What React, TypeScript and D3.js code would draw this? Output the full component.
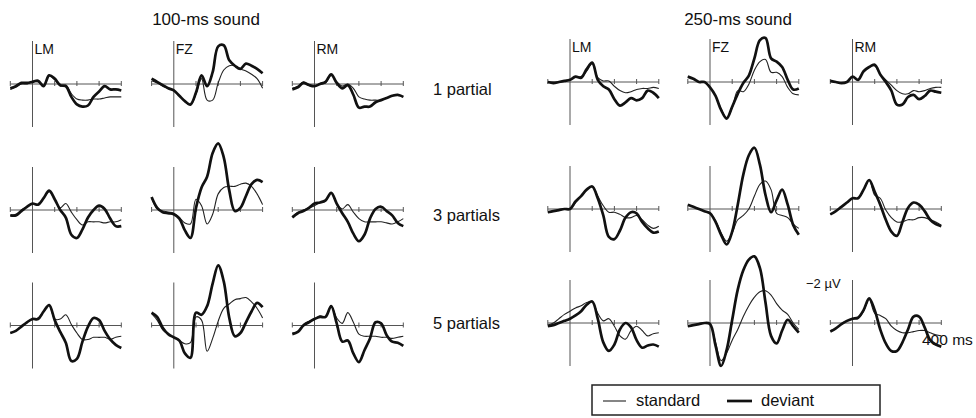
import React from 'react';
import * as d3 from 'd3';

// sample times (ms) and baseline ticks
const TIMES = [-100, -75, -50, -25, 0, 25, 50, 75, 100, 125, 150, 175, 200, 225, 250, 275, 300, 325, 350, 375, 400];
const TICKS = [-100, 100, 200, 300, 400];

const SOUNDS = ['100-ms sound', '250-ms sound'];
const ELECTRODES = ['LM', 'FZ', 'RM'];
const ROWS = ['1 partial', '3 partials', '5 partials'];

// values in µV, negative up
// 100-ms sound
const std100LM1 = [0.25, 0.15, 0, 0, -0.1, -0.1, 0.05, -0.4, -0.2, 0.1, 0.05, 0.45, 0.7, 0.75, 0.75, 0.7, 0.7, 0.65, 0.6, 0.6, 0.6];
const dev100LM1 = [0.2, 0.1, -0.05, -0.05, -0.1, -0.15, 0.1, -0.4, -0.25, 0.05, 0.1, 0.6, 0.95, 1.05, 1.0, 0.6, 0.35, 0.1, 0.25, 0.25, 0.3];
const std100FZ1 = [-0.15, -0.05, 0.1, 0.2, 0.3, 0.55, 0.8, 1.0, 0.45, -0.25, 0.75, 0.75, -0.05, -0.65, -0.85, -0.85, -0.7, -0.6, -0.45, -0.25, 0.2];
const dev100FZ1 = [-0.25, -0.1, 0.05, 0.2, 0.3, 0.55, 0.8, 0.95, 0.4, -0.4, 0.1, -0.55, -1.75, -1.8, -1.1, -0.85, -0.7, -0.95, -0.85, -0.7, -0.5];
const std100RM1 = [0.2, 0.1, -0.1, 0.05, 0.1, 0, -0.05, -0.4, -0.1, 0.1, 0, 0.2, 0.6, 0.7, 0.75, 0.75, 0.75, 0.65, 0.55, 0.55, 0.6];
const dev100RM1 = [0.25, 0.15, -0.05, 0.05, 0.1, 0, -0.1, -0.45, -0.05, 0.2, 0.05, 0.5, 1.1, 1.05, 1.05, 0.85, 0.75, 0.65, 0.55, 0.5, 0.6];

const std100LM3 = [0.25, 0.2, 0, -0.15, -0.3, -0.25, -0.55, -0.85, -0.5, -0.1, -0.3, 0.1, 0.45, 0.7, 0.55, 0.55, 0.55, 0.6, 0.55, 0.55, 0.45];
const dev100LM3 = [0.25, 0.25, 0.05, -0.15, -0.3, -0.25, -0.55, -0.9, -0.5, 0, 0.35, 1.15, 1.3, 0.9, 0.35, 0, -0.2, -0.05, 0.4, 0.75, 0.75];
const std100FZ3 = [-0.55, -0.05, 0.05, 0.1, 0.15, 0.35, 0.6, 0.65, -0.5, -0.2, 0.65, 0.2, -0.75, -1.05, -1.1, -1.1, -1.2, -1.25, -1.1, -0.75, -0.25];
const dev100FZ3 = [-0.6, -0.1, 0.1, 0.15, 0.2, 0.4, 0.95, 1.3, -0.1, -1.05, -1.55, -2.65, -3.1, -2.45, -0.9, 0.05, -0.1, -0.65, -1.2, -1.4, -1.3];
const std100RM3 = [0.3, 0.1, 0, -0.1, -0.2, -0.35, -0.45, -0.8, -0.3, -0.05, -0.25, 0.1, 0.4, 0.55, 0.55, 0.55, 0.55, 0.6, 0.65, 0.55, 0.4];
const dev100RM3 = [0.35, 0.15, 0.05, -0.1, -0.3, -0.35, -0.45, -0.8, -0.3, 0.15, 0.55, 1.1, 1.45, 1.15, 0.4, -0.05, -0.15, 0.05, 0.25, 0.6, 0.75];

const std100LM5 = [0.35, 0.25, 0.05, -0.15, -0.3, -0.35, -0.65, -0.95, -0.3, -0.3, -0.5, -0.05, 0.35, 0.65, 0.65, 0.55, 0.55, 0.55, 0.65, 0.55, 0.5];
const dev100LM5 = [0.35, 0.25, 0.05, -0.15, -0.3, -0.3, -0.65, -0.95, -0.25, 0.3, 0.8, 1.65, 1.55, 0.75, 0.05, -0.35, -0.25, 0.25, 0.65, 0.9, 1.05];
const std100FZ5 = [-0.55, -0.25, 0.2, 0.4, 0.55, 0.7, 0.85, 0.8, -0.4, -0.25, 1.2, 0.6, -0.2, -0.8, -1.0, -1.2, -1.25, -1.3, -1.1, -0.8, -0.35];
const dev100FZ5 = [-0.6, -0.4, 0.1, 0.4, 0.55, 0.7, 1.3, 1.5, -0.6, -0.5, -0.9, -1.95, -2.8, -2.05, -0.35, 0.5, 0.35, -0.15, -0.65, -1.05, -0.85];
const std100RM5 = [0.35, 0.3, -0.05, -0.2, -0.3, -0.45, -0.4, -0.9, -0.35, -0.1, -0.6, -0.15, 0.4, 0.5, 0.5, 0.5, 0.55, 0.55, 0.6, 0.55, 0.5];
const dev100RM5 = [0.4, 0.3, 0, -0.15, -0.3, -0.4, -0.4, -0.9, -0.1, 0.75, 0.7, 1.3, 1.7, 1.15, 0.6, -0.15, -0.1, 0.45, 0.75, 0.8, 0.95];

// 250-ms sound
const std250LM1 = [0, 0, 0, -0.05, -0.1, -0.25, -0.25, -0.5, -0.85, -0.2, -0.05, -0.05, 0.2, 0.4, 0.5, 0.45, 0.35, 0.3, 0.3, 0.25, 0.3];
const dev250LM1 = [0, 0.05, 0, -0.05, -0.1, -0.25, -0.2, -0.6, -0.9, -0.1, 0.2, 0.35, 0.8, 1.1, 0.95, 0.75, 0.85, 0.75, 0.4, 0.5, 0.75];
const std250FZ1 = [-0.25, -0.15, 0, 0, 0.25, 0.65, 1.25, 1.65, 1.2, 0.4, 0.45, 0.1, -0.55, -0.95, -1.05, -0.45, -0.45, -0.25, 0.25, 0.55, 0.6];
const dev250FZ1 = [-0.25, -0.15, 0, 0, 0.25, 0.65, 1.3, 1.7, 1.15, 0.55, 0.05, -0.3, -1.1, -1.95, -2.05, -1.1, -0.95, -0.7, -0.1, 0.35, 0.3];
const std250RM1 = [-0.05, 0, 0.05, 0, -0.25, -0.1, -0.5, -0.7, -0.75, -0.35, -0.1, 0.15, 0.4, 0.55, 0.55, 0.4, 0.45, 0.4, 0.3, 0.25, 0.25];
const dev250RM1 = [-0.05, 0, 0.05, 0, -0.25, -0.1, -0.5, -0.7, -0.8, -0.35, 0, 0.4, 1.05, 1.05, 0.7, 0.6, 0.8, 0.65, 0.4, 0.45, 0.5];

const std250LM3 = [0.15, 0.1, 0.05, 0, 0, -0.3, -0.6, -0.9, -1.05, -0.6, -0.15, 0.15, 0.15, 0.25, 0.4, 0.4, 0.3, 0.5, 0.75, 0.9, 0.8];
const dev250LM3 = [0.15, 0.1, 0.05, 0, 0, -0.35, -0.6, -0.9, -1.05, -0.5, 0.3, 1.3, 1.4, 1.0, 0.4, 0.15, 0.2, 0.6, 0.9, 1.1, 1.05];
const std250FZ3 = [-0.2, -0.1, 0, 0.1, 0.2, 0.55, 1.1, 1.5, 1.1, 0.5, 0.3, 0, -0.6, -1.15, -1.3, -0.9, 0.2, 0.3, 0.4, 0.7, 0.9];
const dev250FZ3 = [-0.2, -0.1, 0, 0.1, 0.2, 0.6, 1.2, 1.65, 1.05, -0.2, -1.6, -2.5, -2.85, -2.05, -0.65, 0.15, -0.4, -0.9, -0.2, 0.75, 1.2];
const std250RM3 = [0.25, 0.1, -0.1, -0.3, -0.5, -0.5, -0.9, -1.35, -0.65, -0.5, 0.05, 0.4, 0.6, 0.6, 0.5, 0.5, 0.4, 0.4, 0.5, 0.6, 0.75];
const dev250RM3 = [0.25, 0.1, -0.1, -0.3, -0.5, -0.5, -0.9, -1.35, -0.8, -0.2, 0.5, 1.05, 1.25, 0.6, -0.05, -0.3, -0.2, 0.1, 0.5, 0.7, 0.8];

const std250LM5 = [0.1, 0, -0.2, -0.4, -0.55, -0.7, -0.8, -0.95, -1.0, -0.45, -0.1, -0.2, 0.15, 0.6, 0.75, 0.35, 0.15, 0.35, 0.6, 0.5, 0.45];
const dev250LM5 = [0.15, 0.1, 0, -0.1, -0.2, -0.35, -0.55, -0.85, -1.0, -0.2, 0.9, 1.3, 1.0, 0.3, 0, 0.2, 0.8, 1.15, 1.05, 1.0, 1.1];
const std250FZ5 = [0.15, 0.1, 0.05, 0, 0.05, 0.9, 1.75, 1.4, 0.8, 0.3, -0.3, -0.8, -1.2, -1.45, -1.5, -1.3, -0.9, -0.6, -0.4, 0, 0.3];
const dev250FZ5 = [0.15, 0.1, 0.05, 0, 0.05, 1.05, 2.0, 1.25, -0.15, -1.55, -2.45, -2.95, -3.1, -2.55, -0.95, 0.6, 0.95, 0.35, -0.15, 0.15, 0.45];
const std250RM5 = [0.35, 0.25, 0.05, -0.1, -0.2, -0.2, -0.55, -1.1, -0.45, -0.35, -0.2, 0.15, 0.35, 0.45, 0.45, 0.4, 0.35, 0.35, 0.45, 0.55, 0.6];
const dev250RM5 = [0.4, 0.25, 0.05, -0.1, -0.2, -0.25, -0.6, -1.15, -0.6, 0.3, 0.95, 1.3, 1.3, 0.9, 0.3, -0.3, -0.3, 0.2, 0.8, 1.0, 1.1];

const STD = [
  [[std100LM1, std100FZ1, std100RM1], [std100LM3, std100FZ3, std100RM3], [std100LM5, std100FZ5, std100RM5]],
  [[std250LM1, std250FZ1, std250RM1], [std250LM3, std250FZ3, std250RM3], [std250LM5, std250FZ5, std250RM5]],
];
const DEV = [
  [[dev100LM1, dev100FZ1, dev100RM1], [dev100LM3, dev100FZ3, dev100RM3], [dev100LM5, dev100FZ5, dev100RM5]],
  [[dev250LM1, dev250FZ1, dev250RM1], [dev250LM3, dev250FZ3, dev250RM3], [dev250LM5, dev250FZ5, dev250RM5]],
];

// layout
const ONSET_X = [[32.5, 173.8, 314.5], [570, 710, 852.5]];
const BASE_Y = [[84, 210, 325.5], [82, 209, 323]];
const PX_PER_100MS = 22.2;
const PX_PER_UV = 21.5;
const FONT = 'Liberation Sans, Arial, Helvetica, sans-serif';

function Panel({ t0x, by, std, dev, label }) {
  const x = d3.scaleLinear().domain([0, 100]).range([t0x, t0x + PX_PER_100MS]);
  const y = d3.scaleLinear().domain([0, 1]).range([by, by + PX_PER_UV]);
  const line = d3.line().x((d, i) => x(TIMES[i])).y(d => y(d)).curve(d3.curveCatmullRom.alpha(0.5));
  return (
    <g>
      <line x1={x(-100)} x2={x(400)} y1={by} y2={by} stroke="#555" strokeWidth={1} />
      {TICKS.map(t => (
        <line key={t} x1={x(t)} x2={x(t)} y1={by - 3} y2={by + 2} stroke="#555" strokeWidth={1} />
      ))}
      <line x1={x(0)} x2={x(0)} y1={y(-2)} y2={y(2)} stroke="#555" strokeWidth={1} />
      {label && (
        <text x={x(0) + 2} y={by - 30} fontSize={14} fontFamily={FONT} fill="#111">{label}</text>
      )}
      <path d={line(std)} fill="none" stroke="#222" strokeWidth={1.1} />
      <path d={line(dev)} fill="none" stroke="#111" strokeWidth={2.7} strokeLinejoin="round" />
    </g>
  );
}

export default function App() {
  return (
    <svg width={976} height={418} style={{ position: 'absolute', left: 0, top: 0, background: '#fff' }}>
      <text x={206} y={25} textAnchor="middle" fontSize={17} fontFamily={FONT} fill="#111">{SOUNDS[0]}</text>
      <text x={738} y={25} textAnchor="middle" fontSize={17} fontFamily={FONT} fill="#111">{SOUNDS[1]}</text>
      {[0, 1].map(s =>
        [0, 1, 2].map(r =>
          [0, 1, 2].map(c => (
            <Panel
              key={`${s}-${r}-${c}`}
              t0x={ONSET_X[s][c]}
              by={BASE_Y[s][r]}
              std={STD[s][r][c]}
              dev={DEV[s][r][c]}
              label={r === 0 ? ELECTRODES[c] : null}
            />
          ))
        )
      )}
      {ROWS.map((r, i) => (
        <text key={r} x={433} y={[95, 221, 329][i]} fontSize={16.5} fontFamily={FONT} fill="#111">{r}</text>
      ))}
      <text x={806} y={288} fontSize={13} fontFamily={FONT} fill="#111">−2 µV</text>
      <text x={922} y={345} fontSize={15.5} fontFamily={FONT} fill="#111">400 ms</text>
      <rect x={592} y={385} width={288} height={30} fill="none" stroke="#222" strokeWidth={1.5} />
      <line x1={603} x2={626} y1={401} y2={401} stroke="#222" strokeWidth={1.1} />
      <text x={636} y={406} fontSize={16.5} fontFamily={FONT} fill="#111">standard</text>
      <line x1={727} x2={752} y1={401} y2={401} stroke="#111" strokeWidth={2.7} />
      <text x={761} y={406} fontSize={16.5} fontFamily={FONT} fill="#111">deviant</text>
    </svg>
  );
}
